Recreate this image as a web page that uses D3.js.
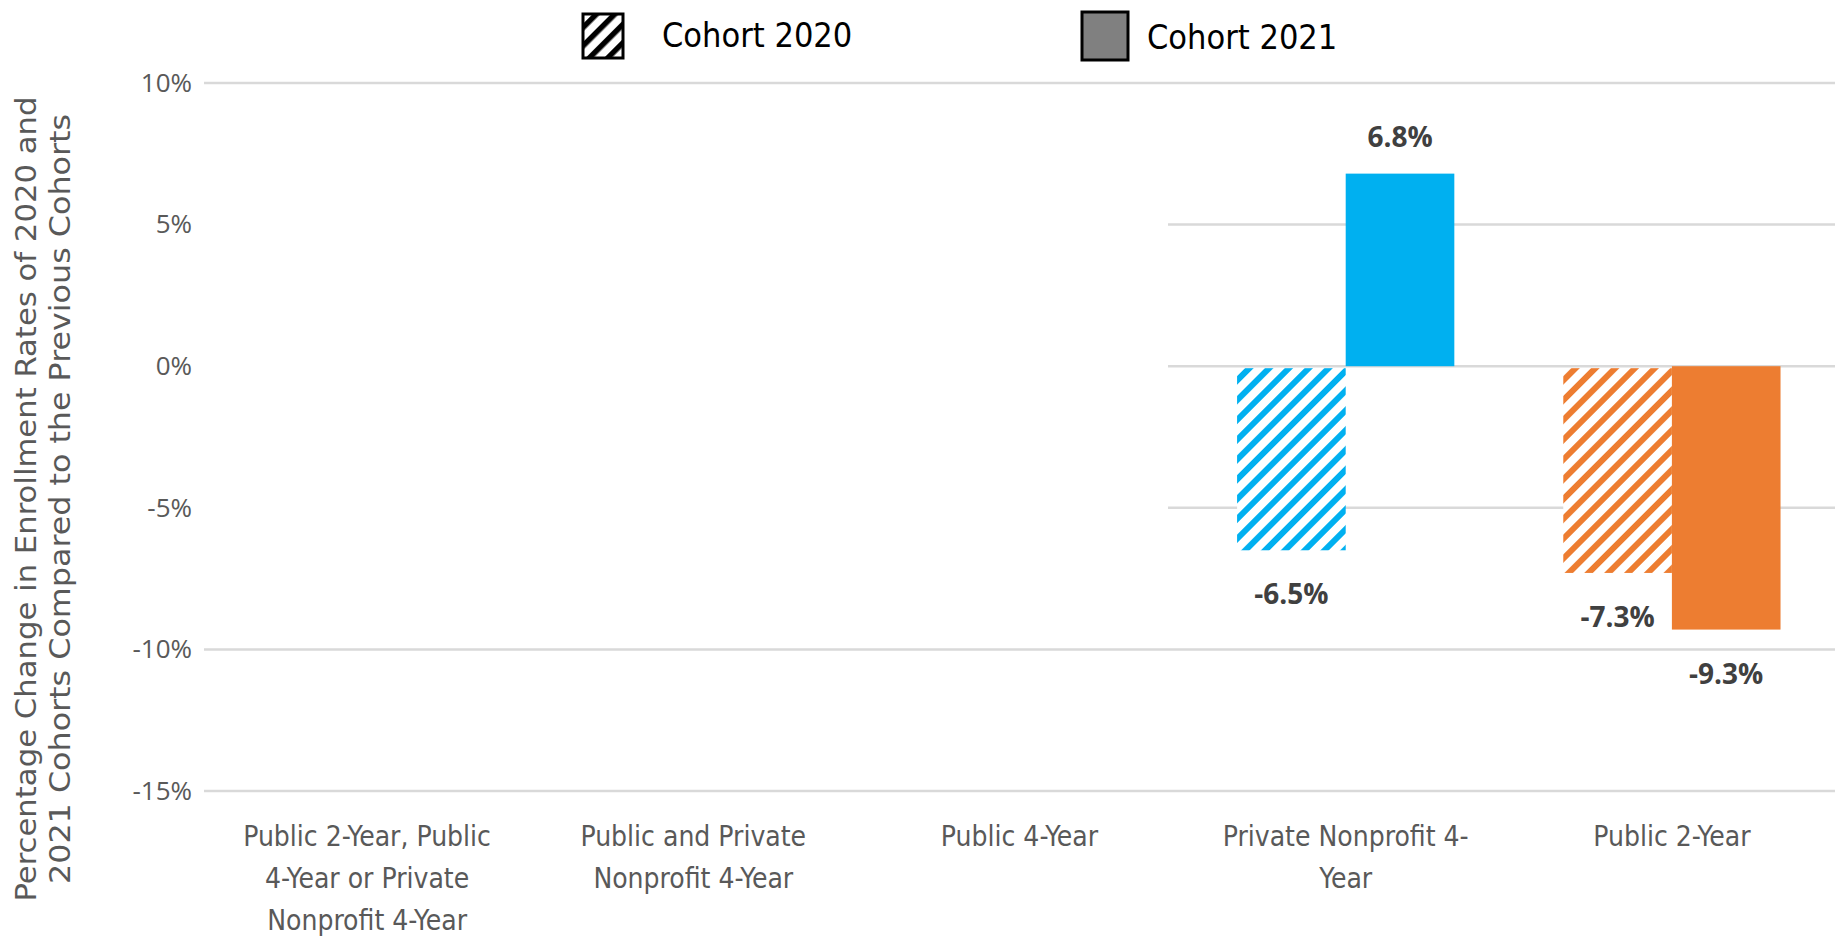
<!DOCTYPE html>
<html>
<head>
<meta charset="utf-8">
<script src="https://cdn.jsdelivr.net/npm/d3@7"></script>
<style>
  body { margin: 0; background: #fff; }
  svg { display: block; }
  .narrow { font-family: "Liberation Sans Narrow", "DejaVu Sans Condensed", "Open Sans", sans-serif; }
</style>
</head>
<body>
<svg width="1845" height="942"></svg>
<script>
var svg = d3.select("svg");

// Data
var categories = ["A", "B", "C", "D", "E"];
var categoryLines = [
    ["Public 2-Year, Public", "4-Year or Private", "Nonprofit 4-Year"],
    ["Public and Private", "Nonprofit 4-Year"],
    ["Public 4-Year"],
    ["Private Nonprofit 4-", "Year"],
    ["Public 2-Year"]
];
var cohorts = ["Cohort 2020", "Cohort 2021"];
var cohort2020 = [null, null, null, -6.5, -7.3];
var cohort2021 = [null, null, null, 6.8, -9.3];
var yTicks = [10, 5, 0, -5, -10, -15];
var fullGridTicks = [10, -10, -15];
var partGridTicks = [5, 0, -5];

var barColor = d3.scaleOrdinal()
    .domain(categories)
    .range(["#00B0F0", "#00B0F0", "#00B0F0", "#00B0F0", "#ED7D31"]);

// Scales
var x = d3.scaleBand()
    .domain(categories)
    .range([204, 1835])
    .paddingInner(0.334)
    .paddingOuter(0.167);

var x1 = d3.scaleBand()
    .domain(cohorts)
    .range([0, x.bandwidth()]);

var y = d3.scaleLinear()
    .domain([-15, 10])
    .range([791, 83]);

// Hatch patterns
var defs = svg.append("defs");
function hatch(id, color, size, width) {
    var p = defs.append("pattern")
        .attr("id", id)
        .attr("patternUnits", "userSpaceOnUse")
        .attr("width", size)
        .attr("height", size)
        .attr("patternTransform", "rotate(45)");
    p.append("rect").attr("width", size).attr("height", size).attr("fill", "#fff");
    p.append("rect").attr("width", width).attr("height", size).attr("fill", color);
}
hatch("hatch-blue", "#00B0F0", 14, 6);
hatch("hatch-orange", "#ED7D31", 14, 6);
hatch("hatch-black", "#000", 13, 5.5);

// Grid lines
var grid = svg.append("g");
grid.selectAll(".full")
    .data(fullGridTicks)
    .enter()
    .append("line")
    .attr("x1", 204)
    .attr("x2", 1835)
    .attr("y1", function(d) { return y(d); })
    .attr("y2", function(d) { return y(d); })
    .style("stroke", "#d9d9d9")
    .style("stroke-width", 2.5);
grid.selectAll(".part")
    .data(partGridTicks)
    .enter()
    .append("line")
    .attr("x1", 1168)
    .attr("x2", 1835)
    .attr("y1", function(d) { return y(d); })
    .attr("y2", function(d) { return y(d); })
    .style("stroke", "#d9d9d9")
    .style("stroke-width", 2.5);

// Y axis labels
var yAxis = d3.axisLeft(y)
    .tickValues(yTicks)
    .tickSize(0)
    .tickPadding(12)
    .tickFormat(function(d) { return d + "%"; });
var axis = svg.append("g")
    .attr("transform", "translate(204,0)")
    .call(yAxis);
axis.select(".domain").remove();
axis.selectAll("text")
    .style("font-family", "'Open Sans', sans-serif")
    .style("font-size", "26px")
    .style("fill", "#595959");

// Y axis title
var title = svg.append("text")
    .attr("class", "narrow")
    .attr("transform", "translate(26,499) rotate(-90)")
    .attr("text-anchor", "middle")
    .style("font-size", "28px")
    .style("fill", "#595959");
title.append("tspan").attr("x", 0).attr("y", 10)
    .attr("textLength", 805).attr("lengthAdjust", "spacingAndGlyphs")
    .text("Percentage Change in Enrollment Rates of 2020 and");
title.append("tspan").attr("x", 0).attr("y", 44)
    .attr("textLength", 770).attr("lengthAdjust", "spacingAndGlyphs")
    .text("2021 Cohorts Compared to the Previous Cohorts");

// X category labels
var xLabels = svg.selectAll(".xlabel")
    .data(categories)
    .enter()
    .append("text")
    .attr("class", "xlabel narrow")
    .attr("text-anchor", "middle")
    .style("font-size", "28px")
    .style("fill", "#595959");
xLabels.selectAll("tspan")
    .data(function(d, i) { return categoryLines[i].map(function(t) { return { t: t, c: d }; }); })
    .enter()
    .append("tspan")
    .attr("x", function(d) { return x(d.c) + x.bandwidth() / 2; })
    .attr("y", function(d, j) { return 846 + j * 42; })
    .text(function(d) { return d.t; });

// Bars
var rows = categories.map(function(c, i) {
    return { cat: c, values: [
        { cohort: cohorts[0], value: cohort2020[i] },
        { cohort: cohorts[1], value: cohort2021[i] }
    ] };
});

var groups = svg.selectAll(".group")
    .data(rows)
    .enter()
    .append("g")
    .attr("class", "group")
    .attr("transform", function(d) { return "translate(" + x(d.cat) + ",0)"; });

groups.selectAll("rect")
    .data(function(d) {
        return d.values.filter(function(v) { return v.value !== null; })
            .map(function(v) { return { cat: d.cat, cohort: v.cohort, value: v.value }; });
    })
    .enter()
    .append("rect")
    .attr("x", function(d) { return x1(d.cohort); })
    .attr("width", x1.bandwidth())
    .attr("y", function(d) { return d.value >= 0 ? y(d.value) : y(0) + (d.cohort === cohorts[0] ? 2 : 0); })
    .attr("height", function(d) { return Math.abs(y(d.value) - y(0)) - (d.value < 0 && d.cohort === cohorts[0] ? 2 : 0); })
    .style("fill", function(d) {
        if (d.cohort === cohorts[1]) return barColor(d.cat);
        return barColor(d.cat) === "#ED7D31" ? "url(#hatch-orange)" : "url(#hatch-blue)";
    });

// Value labels
var fmt = d3.format(".1f");
groups.selectAll(".vlabel")
    .data(function(d) {
        return d.values.filter(function(v) { return v.value !== null; });
    })
    .enter()
    .append("text")
    .attr("class", "vlabel")
    .attr("text-anchor", "middle")
    .attr("x", function(d) { return x1(d.cohort) + x1.bandwidth() / 2; })
    .attr("y", function(d) { return d.value >= 0 ? y(d.value) - 27 : y(d.value) + 54; })
    .style("font-family", "'Open Sans', sans-serif")
    .style("font-weight", "bold")
    .style("font-size", "28px")
    .style("fill", "#404040")
    .text(function(d) { return fmt(d.value).replace("\u2212", "-") + "%"; });

// Legend
var legend = svg.append("g").attr("class", "legend");
legend.append("rect")
    .attr("x", 583).attr("y", 14).attr("width", 40).attr("height", 44)
    .style("fill", "url(#hatch-black)")
    .style("stroke", "#000").style("stroke-width", 3);
legend.append("text")
    .attr("class", "narrow")
    .attr("x", 662).attr("y", 47)
    .style("font-size", "34px").style("fill", "#000")
    .text(cohorts[0]);
legend.append("rect")
    .attr("x", 1082).attr("y", 12).attr("width", 46).attr("height", 48)
    .style("fill", "#808080")
    .style("stroke", "#000").style("stroke-width", 3);
legend.append("text")
    .attr("class", "narrow")
    .attr("x", 1147).attr("y", 49)
    .style("font-size", "34px").style("fill", "#000")
    .text(cohorts[1]);
</script>
</body>
</html>
